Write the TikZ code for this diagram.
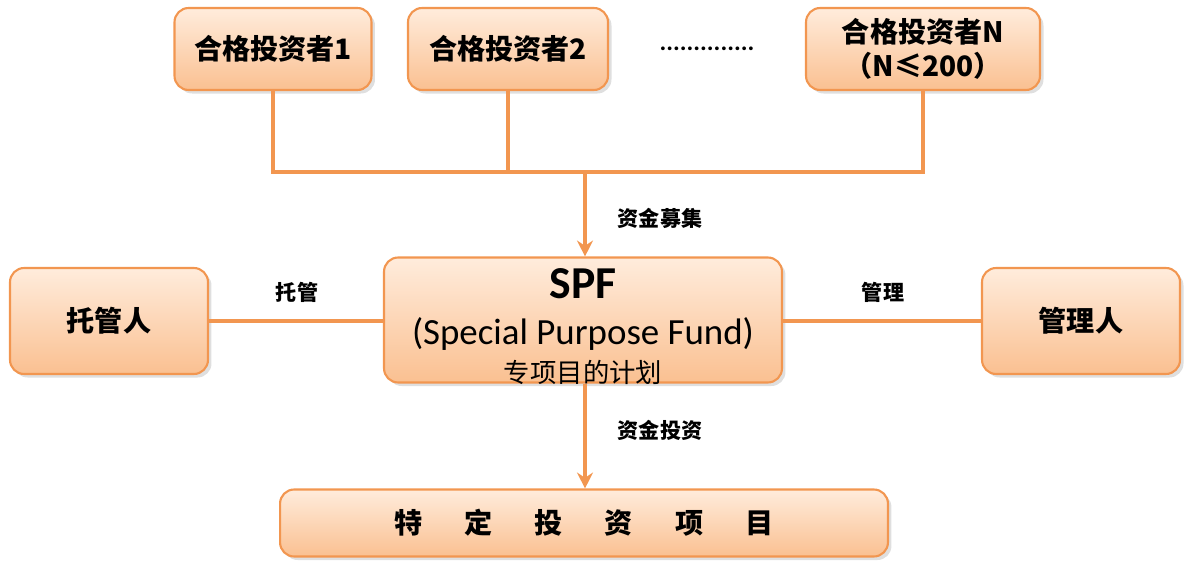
\documentclass[tikz,border=0pt]{standalone}
\usepackage{fontspec}
\setmainfont{Carlito}
\newfontfamily\cjk{Noto Sans CJK SC}
\usetikzlibrary{arrows.meta,shadows}
\definecolor{boxline}{RGB}{242,150,80}
\definecolor{boxtop}{RGB}{255,236,220}
\definecolor{boxbot}{RGB}{250,192,145}

\begin{document}
\begin{tikzpicture}[x=0.02cm,y=-0.02cm,
    fundbox/.style={draw=boxline,line width=1.2pt,rounded corners=8pt,top color=boxtop,bottom color=boxbot,
        drop shadow={opacity=0.25,shadow xshift=2pt,shadow yshift=-2pt},align=center,font=\cjk\bfseries\fontsize{16}{19}\selectfont},
    link/.style={draw=boxline,line width=2pt},
    lbl/.style={font=\cjk\bfseries\fontsize{12}{14}\selectfont},
]
\useasboundingbox (0,0) rectangle (1190,571);

% Investors
\node[fundbox,minimum width=3.94cm,minimum height=1.64cm] (inv1) at (273,49) {合格投资者1};
\node[fundbox,minimum width=4cm,minimum height=1.64cm] (inv2) at (508,49) {合格投资者2};
\node[font=\bfseries\Large] (dots) at (707,49) {..............};
\node[fundbox,minimum width=4.68cm,minimum height=1.64cm] (invn) at (923,49) {合格投资者N\\（N≤200）};

% Fund and parties
\node[fundbox,minimum width=7.96cm,minimum height=2.5cm] (spf) at (583,320) {};
\node[font=\bfseries\fontsize{26}{28}\selectfont] (spft) at (583,284) {SPF};
\node[font=\fontsize{21}{23}\selectfont] (spfe) at (583,334) {(Special Purpose Fund)};
\node[font=\cjk\fontsize{15}{17}\selectfont] (spfc) at (583,372) {专项目的计划};
\node[fundbox,minimum width=3.96cm,minimum height=2.12cm] (cust) at (109,321) {托管人};
\node[fundbox,minimum width=3.96cm,minimum height=2.12cm] (mgr) at (1081,321) {管理人};
\node[fundbox,minimum width=12.16cm,minimum height=1.34cm] (proj) at (584,523)
    {特\hspace{0.84cm}定\hspace{0.84cm}投\hspace{0.84cm}资\hspace{0.84cm}项\hspace{0.84cm}目};

% Connectors
\coordinate (j1) at (273,172);
\coordinate (j2) at (508,172);
\coordinate (jn) at (923,172);
\coordinate (jm) at (585,172);
\draw[link] (inv1) -- (j1) -- (jn) -- (invn);
\draw[link] (inv2) -- (j2);
\draw[link,-{Stealth[length=9pt,width=9pt]}] (jm) -- (spf.north -| jm);
\draw[link,-{Stealth[length=9pt,width=9pt]}] (spf.south -| jm) -- (proj.north -| jm);
\draw[link] (cust) -- (spf.west |- cust);
\draw[link] (mgr) -- (spf.east |- mgr);

% Labels
\node[lbl] (l1) at (660,218) {资金募集};
\node[lbl] (l2) at (660,430) {资金投资};
\node[lbl] (l3) at (297,292) {托管};
\node[lbl] (l4) at (883,292) {管理};
\end{tikzpicture}
\end{document}
